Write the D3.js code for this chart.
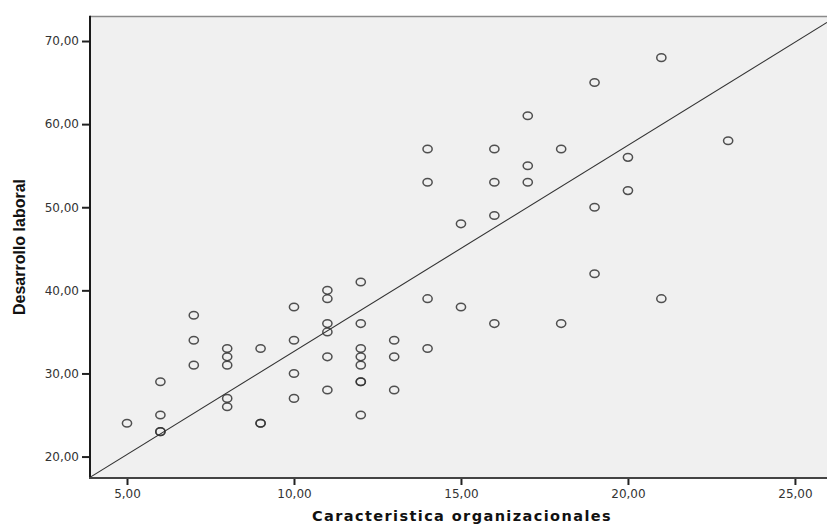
<!DOCTYPE html>
<html>
<head>
<meta charset="utf-8">
<script src="https://cdn.jsdelivr.net/npm/d3@7"></script>
<style>
  body { margin: 0; background: #fff; }
  svg { display: block; }
</style>
</head>
<body>
<svg id="chart" width="827" height="525"></svg>
<script>
// Caracteristica organizacionales (x) vs Desarrollo laboral (y)
const xValues = [5, 6, 6, 6, 6, 7, 7, 7, 8, 8, 8, 8, 8, 9, 9, 9,
	10, 10, 10, 10, 11, 11, 11, 11, 11, 11, 12, 12, 12, 12, 12, 12, 12, 12,
	13, 13, 13, 14, 14, 14, 14, 15, 15, 16, 16, 16, 16, 17, 17, 17,
	18, 18, 19, 19, 19, 20, 20, 21, 21, 23];
const yValues = [24, 29, 25, 23, 23, 37, 34, 31, 33, 32, 31, 27, 26, 33, 24, 24,
	38, 34, 30, 27, 40, 39, 36, 35, 32, 28, 41, 36, 33, 32, 31, 29, 29, 25,
	34, 32, 28, 57, 53, 39, 33, 48, 38, 57, 53, 49, 36, 61, 55, 53,
	57, 36, 65, 50, 42, 56, 52, 68, 39, 58];
const xTicks = [5, 10, 15, 20, 25];
const yTicks = [20, 30, 40, 50, 60, 70];
const fitLine = [7.85, 2.48]; // intercept, slope

const xTitle = "Caracteristica organizacionales";
const yTitle = "Desarrollo laboral";

const svg = d3.select("#chart");
const M = { left: 90, right: 827, top: 16.5, bottom: 478 };

const x = d3.scaleLinear().domain([3.892, 25.96]).range([M.left, M.right]);
const y = d3.scaleLinear().domain([17.42, 72.95]).range([M.bottom, M.top]);
const fmt = d => d3.format(".2f")(d).replace(".", ",");

// plot background
svg.append("rect")
	.attr("x", M.left).attr("y", M.top)
	.attr("width", M.right - M.left + 2).attr("height", M.bottom - M.top)
	.attr("fill", "#f0f0f0");

svg.append("clipPath").attr("id", "clip")
	.append("rect")
	.attr("x", M.left).attr("y", M.top)
	.attr("width", M.right - M.left + 2).attr("height", M.bottom - M.top);

// top frame
svg.append("line")
	.attr("x1", M.left).attr("x2", M.right + 2)
	.attr("y1", M.top).attr("y2", M.top)
	.attr("stroke", "#8a8a8a").attr("stroke-width", 1.5);

// fit line
const [b0, b1] = fitLine;
const xd = x.domain();
svg.append("line")
	.attr("clip-path", "url(#clip)")
	.attr("x1", x(xd[0])).attr("y1", y(b0 + b1 * xd[0]))
	.attr("x2", x(xd[1])).attr("y2", y(b0 + b1 * xd[1]))
	.attr("stroke", "#333").attr("stroke-width", 1.1);

// points
svg.append("g")
	.selectAll("ellipse")
	.data(xValues.map((v, i) => [v, yValues[i]]))
	.join("ellipse")
	.attr("cx", d => x(d[0]))
	.attr("cy", d => y(d[1]))
	.attr("rx", 4.6).attr("ry", 3.8)
	.attr("fill", "none")
	.attr("stroke", "#333")
	.attr("stroke-width", 1.5)
	.attr("stroke-opacity", 0.85);

// axes
const xAxis = svg.append("g")
	.attr("transform", `translate(0,${M.bottom})`)
	.call(d3.axisBottom(x).tickValues(xTicks).tickFormat(fmt).tickSize(7).tickPadding(4));
const yAxis = svg.append("g")
	.attr("transform", `translate(${M.left},0)`)
	.call(d3.axisLeft(y).tickValues(yTicks).tickFormat(fmt).tickSize(8).tickPadding(3));

[xAxis, yAxis].forEach(g => {
	g.select(".domain").remove();
	g.selectAll(".tick line").attr("stroke", "#222").attr("stroke-width", 2);
	g.selectAll(".tick text")
		.attr("fill", "#333")
		.style("font-family", "'DejaVu Sans', Verdana, sans-serif")
		.style("font-size", "12px");
});

svg.append("line")
	.attr("x1", M.left).attr("x2", M.left)
	.attr("y1", M.top - 0.7).attr("y2", M.bottom + 1)
	.attr("stroke", "#1a1a1a").attr("stroke-width", 2);
svg.append("line")
	.attr("x1", M.left - 1).attr("x2", M.right + 2)
	.attr("y1", M.bottom).attr("y2", M.bottom)
	.attr("stroke", "#444").attr("stroke-width", 2);

// titles
svg.append("text")
	.attr("x", 462).attr("y", 521)
	.attr("text-anchor", "middle")
	.style("font-family", "'DejaVu Sans', Verdana, sans-serif")
	.style("font-weight", "bold")
	.style("font-size", "14.5px")
	.style("letter-spacing", "1.4px")
	.attr("fill", "#111")
	.text(xTitle);

svg.append("text")
	.attr("transform", "translate(25,247) rotate(-90)")
	.attr("text-anchor", "middle")
	.style("font-family", "'Liberation Sans Narrow', 'Arial Narrow', sans-serif")
	.style("font-weight", "bold")
	.style("font-size", "16px")
	.attr("fill", "#111")
	.text(yTitle);
</script>
</body>
</html>
